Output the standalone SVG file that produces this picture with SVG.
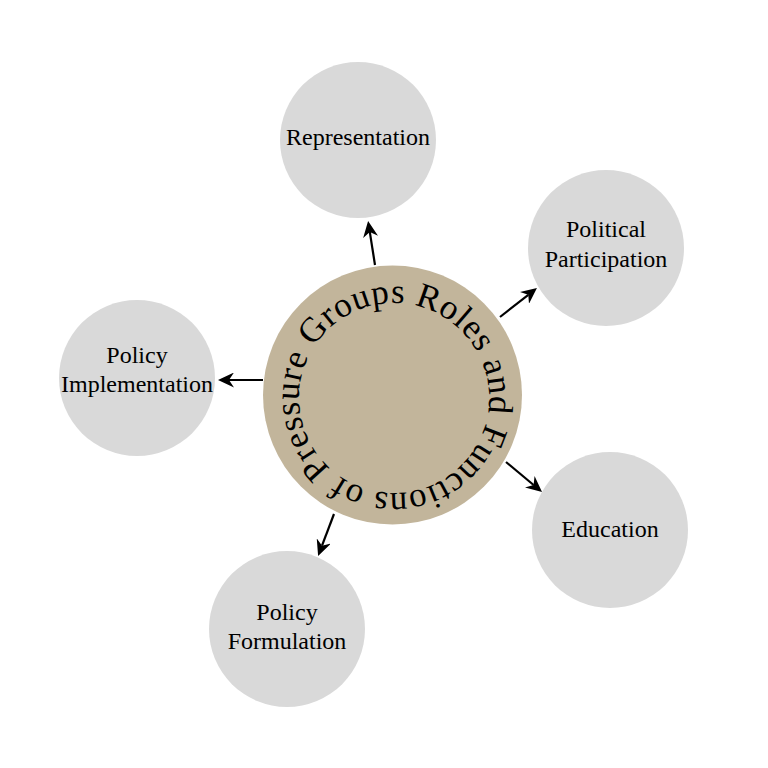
<svg xmlns="http://www.w3.org/2000/svg" xmlns:xlink="http://www.w3.org/1999/xlink" width="768" height="768" viewBox="0 0 768 768">
  <style>
    .sat { fill: #D9D9D9; }
    .hub { fill: #C2B59B; }
    .lbl { font-family: "Liberation Serif", "Times New Roman", serif; font-size: 24px; fill: #000; text-anchor: middle; }
    .arc { font-family: "Liberation Serif", "Times New Roman", serif; font-size: 35px; fill: #000; }
    .conn { stroke: #000; stroke-width: 2.2; fill: none; marker-end: url(#arrow); }
  </style>
  <defs>
    <marker id="arrow" viewBox="0 0 16 15" markerWidth="16" markerHeight="15" refX="5" refY="7.5" orient="auto" markerUnits="userSpaceOnUse">
      <path d="M16,7.5 L0,0 L5,7.5 L0,15 Z" fill="#000"/>
    </marker>
    <path id="ring" d="M330.43,468.60 A95,95 0 1,1 457.57,327.40 A95,95 0 1,1 330.43,468.60"/>
  </defs>
  <rect width="768" height="768" fill="#FFFFFF"/>

  <g id="connectors">
    <line class="conn" x1="375" y1="265" x2="369.8" y2="231.9"/>
    <line class="conn" x1="500" y1="317" x2="528.3" y2="294.8"/>
    <line class="conn" x1="506" y1="462" x2="533.6" y2="485"/>
    <line class="conn" x1="334" y1="514" x2="322" y2="545.7"/>
    <line class="conn" x1="263" y1="380" x2="229" y2="380"/>
  </g>

  <g id="hub">
    <circle class="hub" cx="392.5" cy="395" r="129.5"/>
    <text class="arc"><textPath xlink:href="#ring" href="#ring" textLength="585" lengthAdjust="spacing">Pressure Groups Roles and Functions of</textPath></text>
  </g>

  <g id="representation">
    <circle class="sat" cx="358" cy="140" r="78"/>
    <text class="lbl" x="358" y="145">Representation</text>
  </g>

  <g id="political-participation">
    <circle class="sat" cx="606" cy="248" r="78"/>
    <text class="lbl" x="606" y="237">Political</text>
    <text class="lbl" x="606" y="267">Participation</text>
  </g>

  <g id="education">
    <circle class="sat" cx="610" cy="530" r="78"/>
    <text class="lbl" x="610" y="537">Education</text>
  </g>

  <g id="policy-formulation">
    <circle class="sat" cx="287" cy="629" r="78"/>
    <text class="lbl" x="287" y="620">Policy</text>
    <text class="lbl" x="287" y="649">Formulation</text>
  </g>

  <g id="policy-implementation">
    <circle class="sat" cx="137" cy="378" r="78"/>
    <text class="lbl" x="137" y="363">Policy</text>
    <text class="lbl" x="137" y="392">Implementation</text>
  </g>
</svg>
